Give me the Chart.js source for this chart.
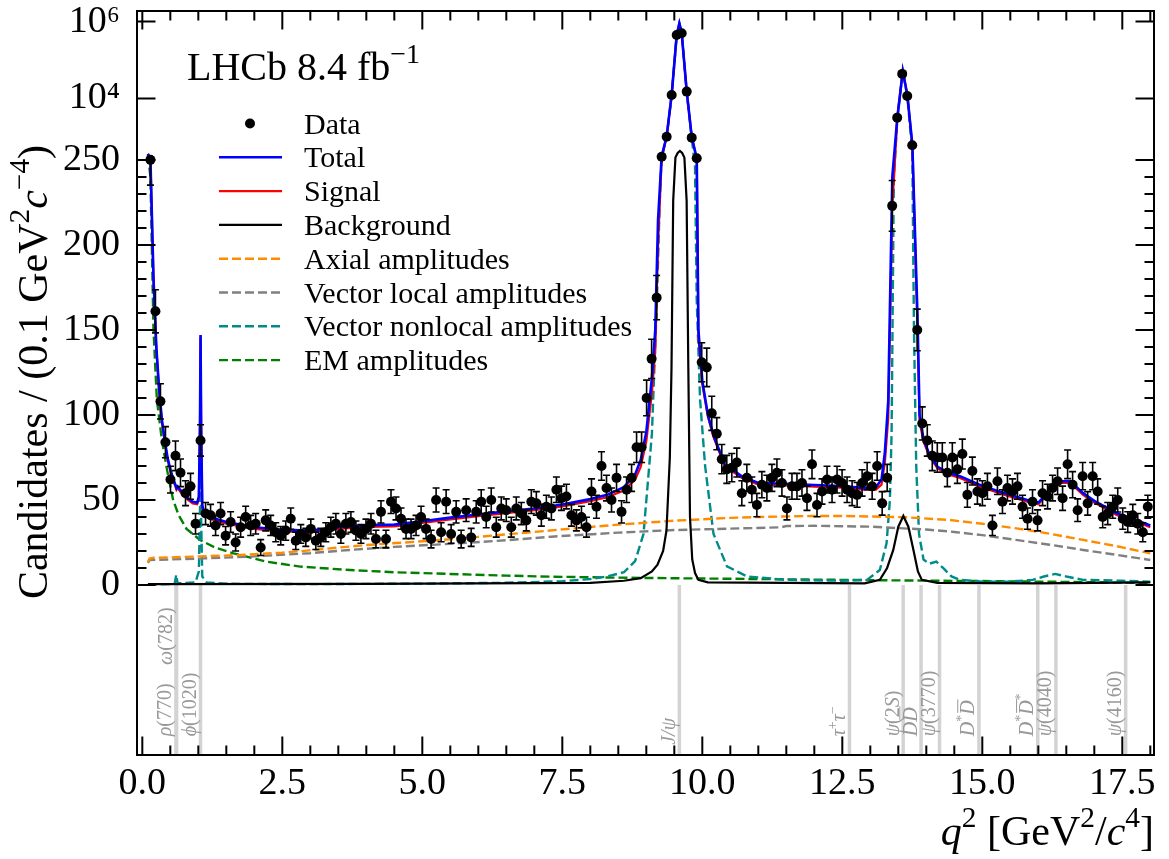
<!DOCTYPE html>
<html>
<head>
<meta charset="utf-8">
<script src="https://cdn.jsdelivr.net/npm/chart.js@4/dist/chart.umd.min.js"></script>
<style>
html,body{margin:0;padding:0;background:#fff}
#wrap{width:1169px;height:859px}
</style>
</head>
<body>
<div id="wrap"><canvas id="c" width="1169" height="859"></canvas></div>
<script>
// histogram: 200 bins between qLo and qHi, candidates per bin
const qLo = 0.1, qHi = 18.0;
const counts = [
 251,161,108,84,62,76,66,54,58,36,
 85,42,41,35,42,29,37,25,34,40,
 35,36,22,38,35,31,29,32,39,26,
 30,28,33,26,28,31,34,36,30,36,
 37,32,30,33,36,27,43,27,49,45,
 39,33,33,35,40,33,27,50,31,49,
 30,43,27,44,28,43,49,40,50,34,
 45,44,34,45,42,38,49,48,41,46,
 45,56,51,52,41,38,40,34,55,46,
 70,57,50,63,43,56,63,81,81,110,
 133,169,303,1000,12300,447000,495000,15000,950,276,
 131,128,101,89,74,68,69,72,54,63,
 56,47,59,57,63,66,60,45,58,58,
 60,51,71,47,55,62,56,62,60,56,
 54,53,60,64,58,70,48,63,223,3150,
 43400,11500,600,150,95,85,76,75,75,66,
 75,68,77,53,67,55,54,58,35,61,
 49,57,55,58,46,39,49,38,54,52,
 57,61,51,71,59,44,64,48,64,55,
 40,42,46,50,39,37,41,36,31,46
];

// fit curves
const totalQ = [0.10,0.145,0.20,0.25,0.30,0.35,0.40,0.45,0.50,0.55,0.59,0.61,0.63,0.70,0.80,0.90,0.98,1.01,1.03,1.04,1.05,1.07,1.10,1.20,1.50,2.00,2.50,3.00,3.50,4.00,4.50,5.00,5.50,6.00,6.50,7.00,7.50,8.00,8.30,8.60,8.80,8.90,9.00,9.10,9.16,9.21,9.274,9.364,9.453,9.543,9.59,9.632,9.722,9.811,9.901,9.93,10.00,10.10,10.20,10.40,10.70,11.00,11.50,12.00,12.50,12.90,13.10,13.20,13.26,13.32,13.393,13.483,13.58,13.662,13.751,13.841,13.88,13.95,14.05,14.20,14.40,14.60,15.00,15.40,15.80,16.00,16.20,16.40,16.57,16.80,17.00,17.40,17.80,18.00];
const totalY = [360,255,180,140,115,97,85,75,68,62.5,59,57,58,55,51.5,49,48.5,52,95,147,95,47,42.5,40,37,34,32.5,32,34,35.2,35.5,37.5,39.6,41.5,43.3,45,47.3,50.5,53,57.5,65,73.5,90,122,150,215,310,1050,12500,450000,900000,500000,15000,1000,270,150,120,100,88,71,64,60,59.5,58.8,58.2,57,57.5,62,78,108,240,3200,52000,12000,620,160,100,86,77,69.5,66,64,58.3,54,50,48.5,55.5,61,61,54,49.5,42.2,37.5,35];
const signalY = [359,254,179,139,114,96,84,74,67,61.5,58,56,57,54,50.5,48,47.5,51,94,146,94,46,41.5,39,36,33,31.5,31,33,34.2,34.5,36.5,38.6,40.5,42.3,44,46.2,49.3,51.6,55.5,62,69.5,84.5,113,138,200,285,1010,12400,449700,899600,499700,14800,995,265,146,118,99,87,70,63,59,58.5,57.8,57.2,56,56,59,72,98,222,3170,51960,11970,600,152,96,84.5,76,68.5,65,63,57.3,53,49,47.5,54.5,60,60,53,48.5,41.2,36.5,34];

const bkgQ = [0.10,4.00,8.00,8.60,8.90,9.10,9.20,9.30,9.36,9.42,9.45,9.48,9.52,9.56,9.60,9.64,9.68,9.72,9.75,9.78,9.82,9.87,9.93,10.10,12.90,13.17,13.30,13.41,13.50,13.59,13.68,13.77,13.85,13.92,14.20,16.00,18.00];
const bkgY = [0.5,0.7,1.2,2.5,4,8,12,20,32,75,128,226,290,380,430,380,290,226,128,40,15,7,3,1.5,1,3,10,20.6,34.3,40.6,34.3,20.6,8,3,1.2,1,1.5];

const nlQ = [0.10,0.50,0.58,0.605,0.63,0.95,1.01,1.03,1.04,1.05,1.07,1.15,1.50,3.00,5.00,6.50,7.50,8.00,8.30,8.60,8.80,8.95,9.10,9.19,9.24,9.274,9.364,9.453,9.543,9.59,9.632,9.722,9.811,9.87,9.90,9.96,10.05,10.20,10.44,10.80,11.50,12.50,12.94,13.17,13.29,13.35,13.38,13.42,13.483,13.58,13.662,13.75,13.78,13.82,13.87,13.95,14.05,14.18,14.30,14.45,14.60,15.00,15.50,15.90,16.10,16.30,16.50,16.80,17.50,18.00];
const nlY = [0.3,0.5,1,6,1,1.5,8,45,90,40,5,1.5,0.7,0.5,0.8,1.3,2.2,3.5,5,7.5,14,30,89,168,226,290,1000,12000,440000,870000,490000,14500,950,246,168,109,70,30,11,5,3,2.5,3,8.8,24.5,50,89,240,3000,50000,11000,400,150,70,30,15,12.5,13.7,10,5,3,2,2,3,5,6.5,5,3,2.5,2];

const axQ = [0.10,0.13,0.20,0.50,1.00,1.74,2.50,2.94,3.50,4.00,5.00,5.50,6.00,7.00,7.50,8.50,9.50,10.50,11.00,12.00,12.50,13.00,13.65,14.42,15.00,15.61,16.20,16.80,17.40,18.00];
const axY = [13.5,15.5,16,16.2,16.8,17.6,19,20.2,22,23.5,25.7,26.9,28.3,31.2,32.7,35.5,37.8,39.5,40,40.6,40.6,40.3,39.8,38.2,36,33.3,30.2,26.5,22.8,18.6];

const vlQ = [0.10,0.13,0.50,1.00,2.00,3.00,3.70,4.50,5.50,6.50,7.30,8.50,9.50,10.70,11.40,11.50,12.00,13.00,14.00,14.50,15.00,15.60,16.20,16.80,17.40,18.00];
const vlY = [13,14.7,15,15.5,16.8,18.7,20.6,22.4,24.2,26.3,28.4,30.8,32.3,33.3,33.9,34.7,34.8,34.3,32.6,31.2,29.3,26.5,23.7,20.6,17.7,14.7];

const emQ = [0.10,0.145,0.20,0.26,0.35,0.44,0.55,0.65,0.79,1.03,1.30,1.63,2.22,2.82,3.71,4.50,5.49,6.50,7.28,8.50,10.00,11.00,12.50,13.50,15.00,16.50,18.00];
const emY = [340,240,150,109,85,68,50,41,33,26.5,22,18.6,13.7,10.8,8.8,7.5,6.5,5.5,4.9,4.3,3.8,3.5,3,2.7,2.3,1.8,1.2];

// resonance markers below the zero line
const resQ = [0.601,0.612,1.039,9.59,12.628,13.587,13.906,14.236,14.94,15.99,16.314,17.56];
const resText = ['`ρ`(770)','`ω`(782)','`ϕ`(1020)','`J/ψ`','`τ`^+`τ`^−','`ψ`(2`S`)','`D¯D`','`ψ`(3770)','`D`^*`¯D`','`D`^*`¯D`^*','`ψ`(4040)','`ψ`(4160)'];
const resTextAt = [-89,-47,-89,-94,-89,-89,-89,-89,-89,-89,-89,-89];

const xMajor = [0,2.5,5,7.5,10,12.5,15,17.5];
const yMajor = [0,50,100,150,200,250,1e4,1e6];
const yMajorText = ['0','50','100','150','200','250','10⁴','10⁶'];

// y axis: linear up to 250, logarithmic above
const LIN_TOP = 250, DEC = 22.6;
function toAxis(v){ return v <= LIN_TOP ? v : LIN_TOP + DEC*Math.log10(v/LIN_TOP); }

const FONT = '"Liberation Serif","Times New Roman",serif';

const binW = (qHi - qLo)/counts.length;
const centers = counts.map((_, i) => qLo + (i + 0.5)*binW);
const pts = centers.map((x, i) => ({x, y: toAxis(counts[i])}));
const errLo = counts.map(n => toAxis(Math.max(n - Math.sqrt(n), 0)));   // Poisson errors
const errHi = counts.map(n => toAxis(n + Math.sqrt(n)));

function curve(q, v){ return q.map((x, i) => ({x, y: toAxis(v[i])})); }

function parseRich(s){
  const out = [];
  let it = false, sup = false, bar = false;
  for (const ch of s){
    if (ch === '`'){ it = !it; continue; }
    if (ch === '^'){ sup = true; continue; }
    if (ch === '¯'){ bar = true; continue; }
    out.push({ch, it, sup, bar});
    sup = false; bar = false;
  }
  return out;
}
function drawRich(ctx, s, x, y, size, align, color){
  const runs = parseRich(s);
  let w = 0;
  runs.forEach(r => {
    r.size = r.sup ? size*0.7 : size;
    ctx.font = (r.it ? 'italic ' : '') + r.size + 'px ' + FONT;
    r.w = ctx.measureText(r.ch).width;
    w += r.w;
  });
  let cx = align === 'right' ? x - w : align === 'center' ? x - w/2 : x;
  ctx.fillStyle = color;
  ctx.textAlign = 'left';
  ctx.textBaseline = 'alphabetic';
  runs.forEach(r => {
    ctx.font = (r.it ? 'italic ' : '') + r.size + 'px ' + FONT;
    ctx.fillText(r.ch, cx, y - (r.sup ? size*0.42 : 0));
    if (r.bar) ctx.fillRect(cx + size*0.1, y - size*0.86, r.w - size*0.05, Math.max(1, size*0.05));
    cx += r.w;
  });
}

const errorBars = {
  id: 'errorBars',
  beforeDatasetDraw(chart, args){
    if (args.index !== 0) return;
    const {ctx, scales: {x, y}} = chart;
    ctx.save();
    ctx.strokeStyle = '#000';
    ctx.lineWidth = 1.6;
    centers.forEach((q, i) => {
      const px = x.getPixelForValue(q);
      const y1 = y.getPixelForValue(errLo[i]), y2 = y.getPixelForValue(errHi[i]);
      ctx.beginPath();
      ctx.moveTo(px, y1); ctx.lineTo(px, y2);
      ctx.moveTo(px - 3.5, y1); ctx.lineTo(px + 3.5, y1);
      ctx.moveTo(px - 3.5, y2); ctx.lineTo(px + 3.5, y2);
      ctx.stroke();
    });
    ctx.restore();
  }
};

const decor = {
  id: 'decor',
  beforeDatasetsDraw(chart){
    const {ctx, chartArea: a, scales: {x, y}} = chart;
    ctx.save();
    const y0 = y.getPixelForValue(0);
    resQ.forEach((q, i) => {
      const px = x.getPixelForValue(q);
      ctx.strokeStyle = '#d3d3d3';
      ctx.lineWidth = 3.5;
      ctx.beginPath(); ctx.moveTo(px, y0); ctx.lineTo(px, a.bottom); ctx.stroke();
      ctx.save();
      ctx.translate(px - 4.5, y.getPixelForValue(resTextAt[i]));
      ctx.rotate(-Math.PI/2);
      drawRich(ctx, resText[i], 0, 0, 20, 'left', '#999999');
      ctx.restore();
    });
    ctx.restore();
  },
  afterDraw(chart){
    const {ctx, chartArea: a, scales: {x, y}} = chart;
    ctx.save();
    ctx.strokeStyle = '#000';
    ctx.lineWidth = 2;
    ctx.strokeRect(a.left, a.top, a.right - a.left, a.bottom - a.top);
    // inward ticks on all four sides
    ctx.beginPath();
    for (let v = 0; v <= 18.001; v += 0.5){
      const px = x.getPixelForValue(v);
      const len = xMajor.some(m => Math.abs(m - v) < 1e-6) ? 18.5 : 9.5;
      ctx.moveTo(px, a.bottom); ctx.lineTo(px, a.bottom - len);
      ctx.moveTo(px, a.top); ctx.lineTo(px, a.top + len);
    }
    for (let v = 0; v <= 250; v += 10){
      const py = y.getPixelForValue(v);
      const len = v % 50 === 0 ? 18.5 : 9.5;
      ctx.moveTo(a.left, py); ctx.lineTo(a.left + len, py);
      ctx.moveTo(a.right, py); ctx.lineTo(a.right - len, py);
    }
    [1e4, 1e6].forEach(v => {
      const py = y.getPixelForValue(toAxis(v));
      ctx.moveTo(a.left, py); ctx.lineTo(a.left + 18.5, py);
      ctx.moveTo(a.right, py); ctx.lineTo(a.right - 18.5, py);
    });
    ctx.stroke();

    // axis titles
    drawRich(ctx, '`q`^2 [GeV^2/`c`^4]', a.right, 845, 42, 'right', '#000');
    ctx.save();
    ctx.translate(47, 372);
    ctx.rotate(-Math.PI/2);
    drawRich(ctx, 'Candidates / (0.1 GeV^2`c`^−^4)', 0, 0, 42, 'center', '#000');
    ctx.restore();

    drawRich(ctx, 'LHCb 8.4 fb^−^1', 187, 80, 40, 'left', '#000');

    // legend
    const ds = chart.data.datasets;
    ds.forEach((d, i) => {
      const ly = 123.5 + 33.8*i;
      if (i === 0){
        ctx.fillStyle = '#000';
        ctx.beginPath(); ctx.arc(250, ly, 5, 0, Math.PI*2); ctx.fill();
      } else {
        ctx.strokeStyle = d.borderColor;
        ctx.lineWidth = d.borderWidth;
        ctx.setLineDash(d.borderDash || []);
        ctx.beginPath(); ctx.moveTo(219, ly); ctx.lineTo(282, ly); ctx.stroke();
        ctx.setLineDash([]);
      }
      ctx.fillStyle = '#000';
      ctx.font = '30px ' + FONT;
      ctx.textAlign = 'left';
      ctx.textBaseline = 'alphabetic';
      ctx.fillText(d.label, 304, ly + 10);
    });
    ctx.restore();
  }
};

const dash = [9, 4];
new Chart(document.getElementById('c'), {
  type: 'line',
  data: {
    datasets: [
      {label: 'Data', data: pts, showLine: false, pointRadius: 5, pointBackgroundColor: '#000', pointBorderWidth: 0},
      {label: 'Total', data: curve(totalQ, totalY), borderColor: '#0000ff', borderWidth: 2.6, pointRadius: 0},
      {label: 'Signal', data: curve(totalQ, signalY), borderColor: '#ff0000', borderWidth: 2.2, pointRadius: 0},
      {label: 'Background', data: curve(bkgQ, bkgY), borderColor: '#000000', borderWidth: 2.2, pointRadius: 0},
      {label: 'Axial amplitudes', data: curve(axQ, axY), borderColor: '#ff8c00', borderWidth: 2.4, borderDash: dash, pointRadius: 0},
      {label: 'Vector local amplitudes', data: curve(vlQ, vlY), borderColor: '#808080', borderWidth: 2.4, borderDash: dash, pointRadius: 0},
      {label: 'Vector nonlocal amplitudes', data: curve(nlQ, nlY), borderColor: '#008b8b', borderWidth: 2.4, borderDash: dash, pointRadius: 0},
      {label: 'EM amplitudes', data: curve(emQ, emY), borderColor: '#008000', borderWidth: 2.4, borderDash: dash, pointRadius: 0}
    ]
  },
  options: {
    responsive: false,
    animation: false,
    devicePixelRatio: 1,
    events: [],
    layout: {padding: {left: 0, right: 15, top: 11, bottom: 0}},
    plugins: {legend: {display: false}, tooltip: {enabled: false}},
    scales: {
      x: {
        type: 'linear', min: -0.095, max: 18.066,
        afterBuildTicks: s => { s.ticks = xMajor.map(v => ({value: v})); },
        afterFit: s => { s.height = 104; s.paddingLeft = 0; s.paddingRight = 0; },
        grid: {display: false, drawTicks: false},
        border: {display: false},
        ticks: {autoSkip: false, maxRotation: 0, minRotation: 0, padding: 6, color: '#000',
          font: {family: FONT, size: 38}, callback: v => v.toFixed(1)}
      },
      y: {
        type: 'linear', min: -100, max: 337.6,
        afterBuildTicks: s => { s.ticks = yMajor.map(v => ({value: toAxis(v)})); },
        afterFit: s => { s.width = 137; s.paddingTop = 0; s.paddingBottom = 0; },
        grid: {display: false, drawTicks: false},
        border: {display: false},
        ticks: {autoSkip: false, padding: 17, color: '#000',
          font: {family: FONT, size: 38}, callback: (v, i) => yMajorText[i]}
      }
    }
  },
  plugins: [errorBars, decor]
});
</script>
</body>
</html>
